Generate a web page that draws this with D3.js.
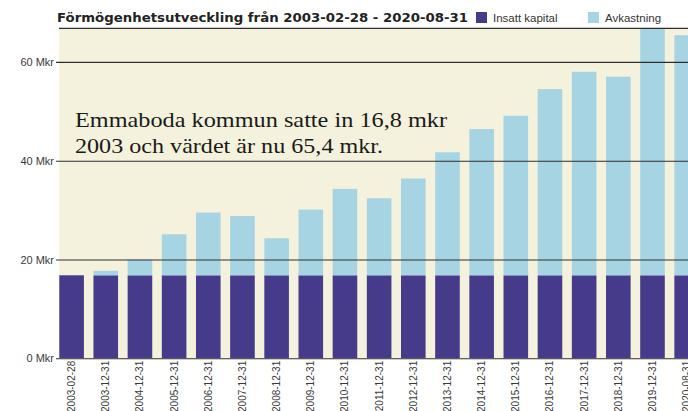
<!DOCTYPE html>
<html>
<head>
<meta charset="utf-8">
<script src="https://cdn.jsdelivr.net/npm/d3@7"></script>
<style>
  html, body { margin: 0; padding: 0; background: #ffffff; }
  svg { display: block; }
</style>
</head>
<body>
<svg id="chart" width="688" height="411"></svg>
<script>
// Period end dates
const dates = [
  "2003-02-28", "2003-12-31", "2004-12-31", "2005-12-31", "2006-12-31",
  "2007-12-31", "2008-12-31", "2009-12-31", "2010-12-31", "2011-12-31",
  "2012-12-31", "2013-12-31", "2014-12-31", "2015-12-31", "2016-12-31",
  "2017-12-31", "2018-12-31", "2019-12-31", "2020-08-31"
];
// Paid-in capital (Mkr)
const insattKapital = [16.8, 16.8, 16.8, 16.8, 16.8, 16.8, 16.8, 16.8, 16.8, 16.8,
                       16.8, 16.8, 16.8, 16.8, 16.8, 16.8, 16.8, 16.8, 16.8];
// Return on top of paid-in capital (Mkr)
const avkastning = [0, 0.9, 3.2, 8.3, 12.7, 12.0, 7.5, 13.3, 17.5, 15.6,
                    19.6, 24.9, 29.6, 32.3, 37.7, 41.2, 40.2, 50.7, 48.6];
const yTicks = [0, 20, 40, 60];
const seriesNames = ["Insatt kapital", "Avkastning"];
const seriesColors = ["#463b8b", "#a7d4e3"];
const title = "Förmögenhetsutveckling från 2003-02-28 - 2020-08-31";
const note = ["Emmaboda kommun satte in 16,8 mkr", "2003 och värdet är nu 65,4 mkr."];

const svg = d3.select("#chart");
const plot = { left: 59, top: 28.3, right: 688, bottom: 358.3 };

const x = d3.scaleBand()
  .domain(dates)
  .range([59.3, 59.3 + 34.17 * (dates.length - 0.28)])
  .paddingInner(0.28)
  .paddingOuter(0);

const y = d3.scaleLinear()
  .domain([0, 66.8])
  .range([plot.bottom, plot.top]);

const rows = dates.map((d, i) => ({ date: d, "Insatt kapital": insattKapital[i], "Avkastning": avkastning[i] }));
const stacked = d3.stack().keys(seriesNames)(rows);

// Plot background
svg.append("rect")
  .attr("x", plot.left).attr("y", plot.top)
  .attr("width", plot.right - plot.left).attr("height", plot.bottom - plot.top)
  .attr("fill", "#f4f2dc");

svg.append("clipPath").attr("id", "plotClip")
  .append("rect")
  .attr("x", plot.left).attr("y", plot.top)
  .attr("width", plot.right - plot.left).attr("height", plot.bottom - plot.top);

// Stacked bars
svg.append("g").attr("clip-path", "url(#plotClip)")
  .selectAll("g")
  .data(stacked)
  .join("g")
  .attr("fill", (d, i) => seriesColors[i])
  .selectAll("rect")
  .data(d => d)
  .join("rect")
  .attr("x", d => x(d.data.date))
  .attr("width", x.bandwidth())
  .attr("y", d => y(d[1]))
  .attr("height", d => y(d[0]) - y(d[1]));

// Y axis with gridlines drawn over the bars
const yAxis = d3.axisLeft(y)
  .tickValues(yTicks)
  .tickSize(-(plot.right - plot.left) - 3)
  .tickPadding(2)
  .tickFormat(d => d + " Mkr");

const yg = svg.append("g")
  .attr("transform", `translate(${plot.left - 3},0)`)
  .call(yAxis);
yg.select(".domain").remove();
yg.selectAll(".tick line").attr("stroke", "#2e2e2e").attr("stroke-width", 1.1);
yg.selectAll(".tick text")
  .attr("fill", "#3a3a3a")
  .attr("font-family", "Liberation Sans, Arial, sans-serif")
  .attr("font-size", "11px");

// Top border of the plot
svg.append("line")
  .attr("x1", plot.left).attr("x2", plot.right)
  .attr("y1", plot.top).attr("y2", plot.top)
  .attr("stroke", "#2e2e2e").attr("stroke-width", 1.3);

// X axis labels, rotated
const xg = svg.append("g")
  .attr("transform", `translate(0,${plot.bottom})`)
  .call(d3.axisBottom(x).tickSize(0).tickPadding(0));
xg.select(".domain").remove();
xg.selectAll(".tick text")
  .attr("fill", "#3a3a3a")
  .attr("font-family", "Liberation Sans, Arial, sans-serif")
  .attr("font-size", "10px")
  .attr("text-anchor", "end")
  .attr("dy", "0.35em")
  .attr("transform", "translate(0,2.5) rotate(-90)")
  .attr("x", 0).attr("y", 0);

// Title
svg.append("text")
  .attr("x", 57).attr("y", 22)
  .attr("font-family", "DejaVu Sans, Verdana, sans-serif")
  .attr("font-weight", "bold")
  .attr("font-size", "11.5px")
  .attr("fill", "#222")
  .attr("textLength", 411)
  .attr("lengthAdjust", "spacingAndGlyphs")
  .text(title);

// Legend
const legendX = [476, 588];
const legend = svg.append("g");
seriesNames.forEach((name, i) => {
  legend.append("rect")
    .attr("x", legendX[i]).attr("y", 12)
    .attr("width", 11).attr("height", 11)
    .attr("fill", seriesColors[i]);
  legend.append("text")
    .attr("x", legendX[i] + 17).attr("y", 21.5)
    .attr("font-family", "Liberation Sans, Arial, sans-serif")
    .attr("font-size", "11.5px")
    .attr("fill", "#333")
    .text(name);
});

// Annotation
const noteWidths = [372, 308];
svg.append("g").selectAll("text")
  .data(note)
  .join("text")
  .attr("x", 75)
  .attr("y", (d, i) => 126.7 + i * 26.6)
  .attr("font-family", "Liberation Serif, Times New Roman, serif")
  .attr("font-size", "21px")
  .attr("fill", "#1a1a1a")
  .attr("textLength", (d, i) => noteWidths[i])
  .attr("lengthAdjust", "spacingAndGlyphs")
  .text(d => d);
</script>
</body>
</html>
